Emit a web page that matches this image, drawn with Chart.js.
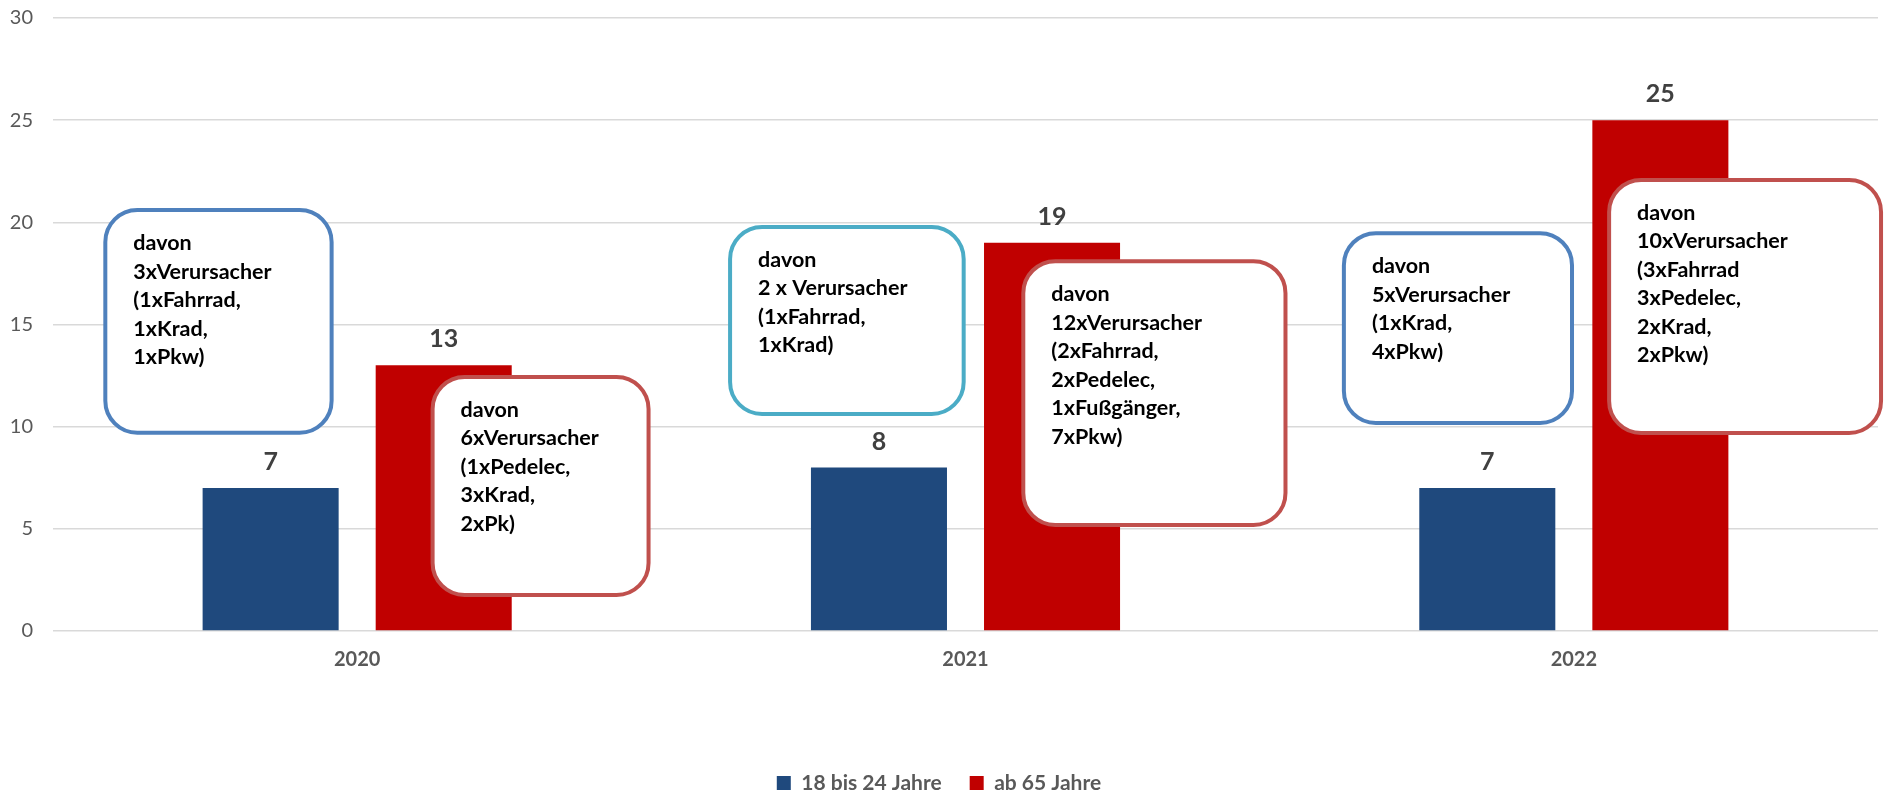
<!DOCTYPE html>
<html>
<head>
<meta charset="utf-8">
<script src="https://cdn.jsdelivr.net/npm/chart.js@4/dist/chart.umd.min.js"></script>
<style>
  html, body { margin: 0; padding: 0; background: #fff; }
  #wrap { width: 1885px; height: 795px; }
</style>
</head>
<body>
<div id="wrap"><canvas id="chart"></canvas></div>
<script>
// data
const years = ['2020', '2021', '2022'];
const seriesNames = ['18 bis 24 Jahre', 'ab 65 Jahre'];
const young = [7, 8, 7];
const senior = [13, 19, 25];
const yTicks = [0, 5, 10, 15, 20, 25, 30];

// callout texts, one per bar (year, series)
const noteYoung = [
  ['davon', '3xVerursacher', '(1xFahrrad,', '1xKrad,', '1xPkw)'],
  ['davon', '2 x Verursacher', '(1xFahrrad,', '1xKrad)'],
  ['davon', '5xVerursacher', '(1xKrad,', '4xPkw)'],
];
const noteSenior = [
  ['davon', '6xVerursacher', '(1xPedelec,', '3xKrad,', '2xPk)'],
  ['davon', '12xVerursacher', '(2xFahrrad,', '2xPedelec,', '1xFußgänger,', '7xPkw)'],
  ['davon', '10xVerursacher', '(3xFahrrad', '3xPedelec,', '2xKrad,', '2xPkw)'],
];

// where the callouts sit: x in category units relative to the year, y in value units
const calloutBoxes = [
  { cat: 0, lines: noteYoung[0],  x0: -0.414, x1: -0.042, top: 20.6,  bottom: 9.7,  color: '#4F81BD' },
  { cat: 0, lines: noteSenior[0], x0: 0.124,  x1: 0.479,  top: 12.43, bottom: 1.76, color: '#C0504D' },
  { cat: 1, lines: noteYoung[1],  x0: -0.387, x1: -0.003, top: 19.77, bottom: 10.62, color: '#4BACC6' },
  { cat: 1, lines: noteSenior[1], x0: 0.095,  x1: 0.526,  top: 18.1,  bottom: 5.19, color: '#C0504D' },
  { cat: 2, lines: noteYoung[2],  x0: -0.378, x1: -0.003, top: 19.47, bottom: 10.18, color: '#4F81BD' },
  { cat: 2, lines: noteSenior[2], x0: 0.058,  x1: 0.505,  top: 22.07, bottom: 9.69, color: '#C0504D' },
];

const FONT = 'Lato, "Open Sans", sans-serif';

const valueLabels = {
  id: 'valueLabels',
  afterDatasetsDraw(chart) {
    const ctx = chart.ctx;
    ctx.save();
    ctx.font = 'bold 25px ' + FONT;
    ctx.fillStyle = '#404040';
    ctx.textAlign = 'center';
    ctx.textBaseline = 'alphabetic';
    chart.data.datasets.forEach((ds, di) => {
      chart.getDatasetMeta(di).data.forEach((bar, i) => {
        ctx.fillText(String(ds.data[i]), bar.x, bar.y - 18);
      });
    });
    ctx.restore();
  }
};

const callouts = {
  id: 'callouts',
  afterDatasetsDraw(chart) {
    const ctx = chart.ctx;
    const xs = chart.scales.x, ys = chart.scales.y;
    const step = xs.getPixelForValue(1) - xs.getPixelForValue(0);
    ctx.save();
    calloutBoxes.forEach(b => {
      const c = xs.getPixelForValue(b.cat);
      const left = c + b.x0 * step, right = c + b.x1 * step;
      const top = ys.getPixelForValue(b.top), bottom = ys.getPixelForValue(b.bottom);
      ctx.beginPath();
      ctx.roundRect(left, top, right - left, bottom - top, 32);
      ctx.fillStyle = '#fff';
      ctx.fill();
      ctx.lineWidth = 4;
      ctx.strokeStyle = b.color;
      ctx.stroke();
      ctx.fillStyle = '#000';
      ctx.font = 'bold 21.5px ' + FONT;
      ctx.textAlign = 'left';
      ctx.textBaseline = 'middle';
      b.lines.forEach((t, k) => ctx.fillText(t, left + 28, top + 33 + k * 28.5));
    });
    ctx.restore();
  }
};

new Chart(document.getElementById('chart'), {
  type: 'bar',
  data: {
    labels: years,
    datasets: [
      { label: seriesNames[0], data: young, backgroundColor: '#1F497D' },
      { label: seriesNames[1], data: senior, backgroundColor: '#C00000' },
    ],
  },
  options: {
    responsive: true,
    maintainAspectRatio: false,
    animation: false,
    categoryPercentage: 0.569,
    barPercentage: 0.786,
    layout: { padding: { top: 18, right: 7, bottom: -8.5, left: 0 } },
    scales: {
      y: {
        min: 0,
        max: 30,
        afterBuildTicks: s => { s.ticks = yTicks.map(v => ({ value: v })); },
        afterFit: s => { s.width = 53; s.paddingTop = 0; s.paddingBottom = 0; },
        ticks: { color: '#595959', font: { family: FONT, size: 20 }, padding: 20 },
        grid: { color: '#D9D9D9', lineWidth: 1.5, drawTicks: false },
        border: { display: false },
      },
      x: {
        afterFit: s => { s.height = 113.5; },
        ticks: { color: '#595959', font: { family: FONT, size: 20, weight: 'bold' }, padding: 17 },
        grid: { display: false, drawTicks: false },
        border: { display: false },
      },
    },
    plugins: {
      legend: {
        position: 'bottom',
        labels: {
          color: '#595959',
          font: { family: FONT, size: 21, weight: 'bold' },
          boxWidth: 14,
          boxHeight: 14,
          padding: 28,
        },
      },
      tooltip: { enabled: false },
    },
  },
  plugins: [valueLabels, callouts],
});
</script>
</body>
</html>
